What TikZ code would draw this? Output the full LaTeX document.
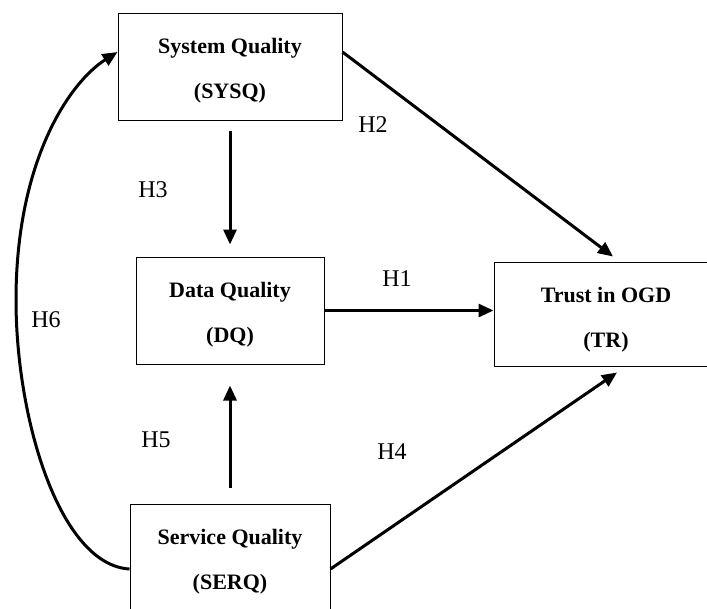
\documentclass[tikz,border=0pt]{standalone}
\usepackage{fontspec}
\setmainfont{Liberation Serif}
\usetikzlibrary{arrows.meta}
\begin{document}
\begin{tikzpicture}[x=1pt,y=-1pt,
  box/.style={draw, line width=1pt, inner sep=0pt},
  boxtext/.style={align=center, inner sep=0pt, font=\fontsize{22}{45}\selectfont\bfseries},
  hyp/.style={inner sep=0pt, font=\fontsize{24}{26}\selectfont},
  conn/.style={line width=3pt, -{Triangle[length=15pt,width=13pt]}}]
\useasboundingbox (0,0) rectangle (707,608);
\clip (0,0) rectangle (707,608);
% boxes
\node[box, minimum width=224pt, minimum height=107pt] (sysq) at (230,66.5) {};
\node[box, minimum width=188pt, minimum height=107pt] (dq) at (230,310.5) {};
\node[box, minimum width=224pt, minimum height=104pt] (tr) at (606,314) {};
\node[box, minimum width=200pt, minimum height=107pt] (serq) at (230,557.5) {};
% box texts
\node[boxtext] (sysqt) at (230,70.7) {System Quality\\(SYSQ)};
\node[boxtext] (dqt) at (230,315) {Data Quality\\(DQ)};
\node[boxtext] (trt) at (606,319.5) {Trust in OGD\\(TR)};
\node[boxtext] (serqt) at (230,561.7) {Service Quality\\(SERQ)};
% connectors
\draw[conn] (dq.east) -- (dq.east -| tr.west);
\draw[conn] ([yshift=14.5pt]sysq.east) -- ([xshift=7pt,yshift=5pt]tr.north);
\draw[conn, shorten <=10pt, shorten >=12pt] (sysq.south) -- (dq.north);
\draw[conn] ([yshift=-11.5pt]serq.east) -- ([xshift=11pt,yshift=-6pt]tr.south);
\draw[conn, shorten <=16pt, shorten >=21pt] (serq.north) -- (dq.south);
\coordinate (h6mid) at (16,300);
\draw[conn] ([yshift=-11.5pt]serq.west) .. controls (60,565) and (16,420) .. (h6mid)
  .. controls (16,160) and (70,82) .. ([yshift=14.5pt]sysq.west);
% hypothesis labels
\node[hyp] (h1) at (397,279) {H1};
\node[hyp] (h2) at (373,125) {H2};
\node[hyp] (h3) at (153,190) {H3};
\node[hyp] (h4) at (392,452) {H4};
\node[hyp] (h5) at (156,440) {H5};
\node[hyp] (h6) at (46,320) {H6};
\end{tikzpicture}
\end{document}
